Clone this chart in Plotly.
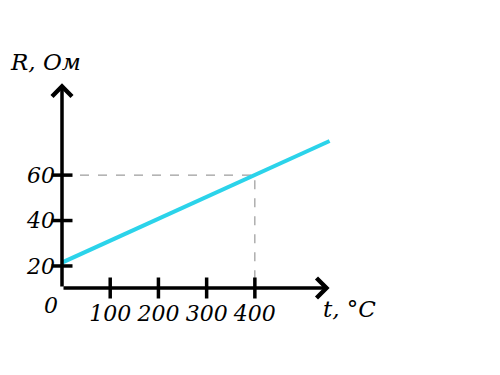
import plotly.graph_objects as go

# data
t_line = [0, 400, 555]
R_line = [21.5, 60, 75]
x_ticks = [100, 200, 300, 400]
x_tick_labels = ["100", "200", "300", "400"]
y_ticks = [20, 40, 60]
y_tick_labels = ["20", "40", "60"]
ref_t = 400
ref_R = 60

X0, X1 = 0, 560
Y0, Y1 = 10.3, 101
x_tip = 555
y_tip = 100.4

FONT = "DejaVu Serif"
CYAN = "#2bd3ea"

fig = go.Figure()

# dashed reference lines
fig.add_trace(go.Scatter(x=[0, ref_t, ref_t], y=[ref_R, ref_R, Y0],
                         mode="lines", line=dict(color="#858585", width=1, dash="dash"),
                         hoverinfo="skip", showlegend=False))
# main line
fig.add_trace(go.Scatter(x=t_line, y=R_line, mode="lines",
                         line=dict(color=CYAN, width=4), showlegend=False))

# axes arrows
fig.add_annotation(x=x_tip, y=Y0, ax=0, ay=Y0, xref="x", yref="y", axref="x", ayref="y",
                   text="", showarrow=True, arrowhead=4, arrowsize=1.1, arrowwidth=3.5,
                   arrowcolor="black")
fig.add_annotation(x=0, y=y_tip, ax=0, ay=Y0, xref="x", yref="y", axref="x", ayref="y",
                   text="", showarrow=True, arrowhead=4, arrowsize=1.1, arrowwidth=3.5,
                   arrowcolor="black")

# tick marks
fig.add_trace(go.Scatter(x=x_ticks, y=[Y0] * len(x_ticks), mode="markers",
                         marker=dict(symbol="line-ns", size=15, line=dict(color="black", width=3.5)),
                         hoverinfo="skip", showlegend=False))
fig.add_trace(go.Scatter(x=[0] * len(y_ticks), y=y_ticks, mode="markers",
                         marker=dict(symbol="line-ew", size=15, line=dict(color="black", width=3.5)),
                         hoverinfo="skip", showlegend=False))

# labels
fig.add_annotation(x=0, y=Y0, xref="x", yref="y", text="0", showarrow=False,
                   xanchor="right", yanchor="top", xshift=-2, yshift=-3,
                   font=dict(family=FONT, size=22, style="italic", color="black"))
fig.add_annotation(x=0, y=y_tip, xref="x", yref="y", text="R, Ом", showarrow=False,
                   xanchor="center", yanchor="bottom", xshift=-17, yshift=6,
                   font=dict(family=FONT, size=23, style="italic", color="black"))
fig.add_annotation(x=x_tip, y=Y0, xref="x", yref="y", text="t, °C", showarrow=False,
                   xanchor="left", yanchor="top", xshift=-9, yshift=-6,
                   font=dict(family=FONT, size=23, style="italic", color="black"))

fig.update_traces(cliponaxis=False)

fig.update_xaxes(range=[X0, X1], showgrid=False, zeroline=False, showline=False,
                 tickvals=x_ticks, ticktext=x_tick_labels, ticks="",
                 ticklabelstandoff=10,
                 tickfont=dict(family=FONT, size=22, style="italic", color="black"))
fig.update_yaxes(range=[Y0, Y1], showgrid=False, zeroline=False, showline=False,
                 tickvals=y_ticks, ticktext=y_tick_labels, ticks="",
                 ticklabelstandoff=6,
                 tickfont=dict(family=FONT, size=22, style="italic", color="black"))

fig.update_layout(width=492, height=367, margin=dict(l=54, r=168, t=74, b=87),
                  plot_bgcolor="white", paper_bgcolor="white", showlegend=False)

fig.write_html("out.html")
